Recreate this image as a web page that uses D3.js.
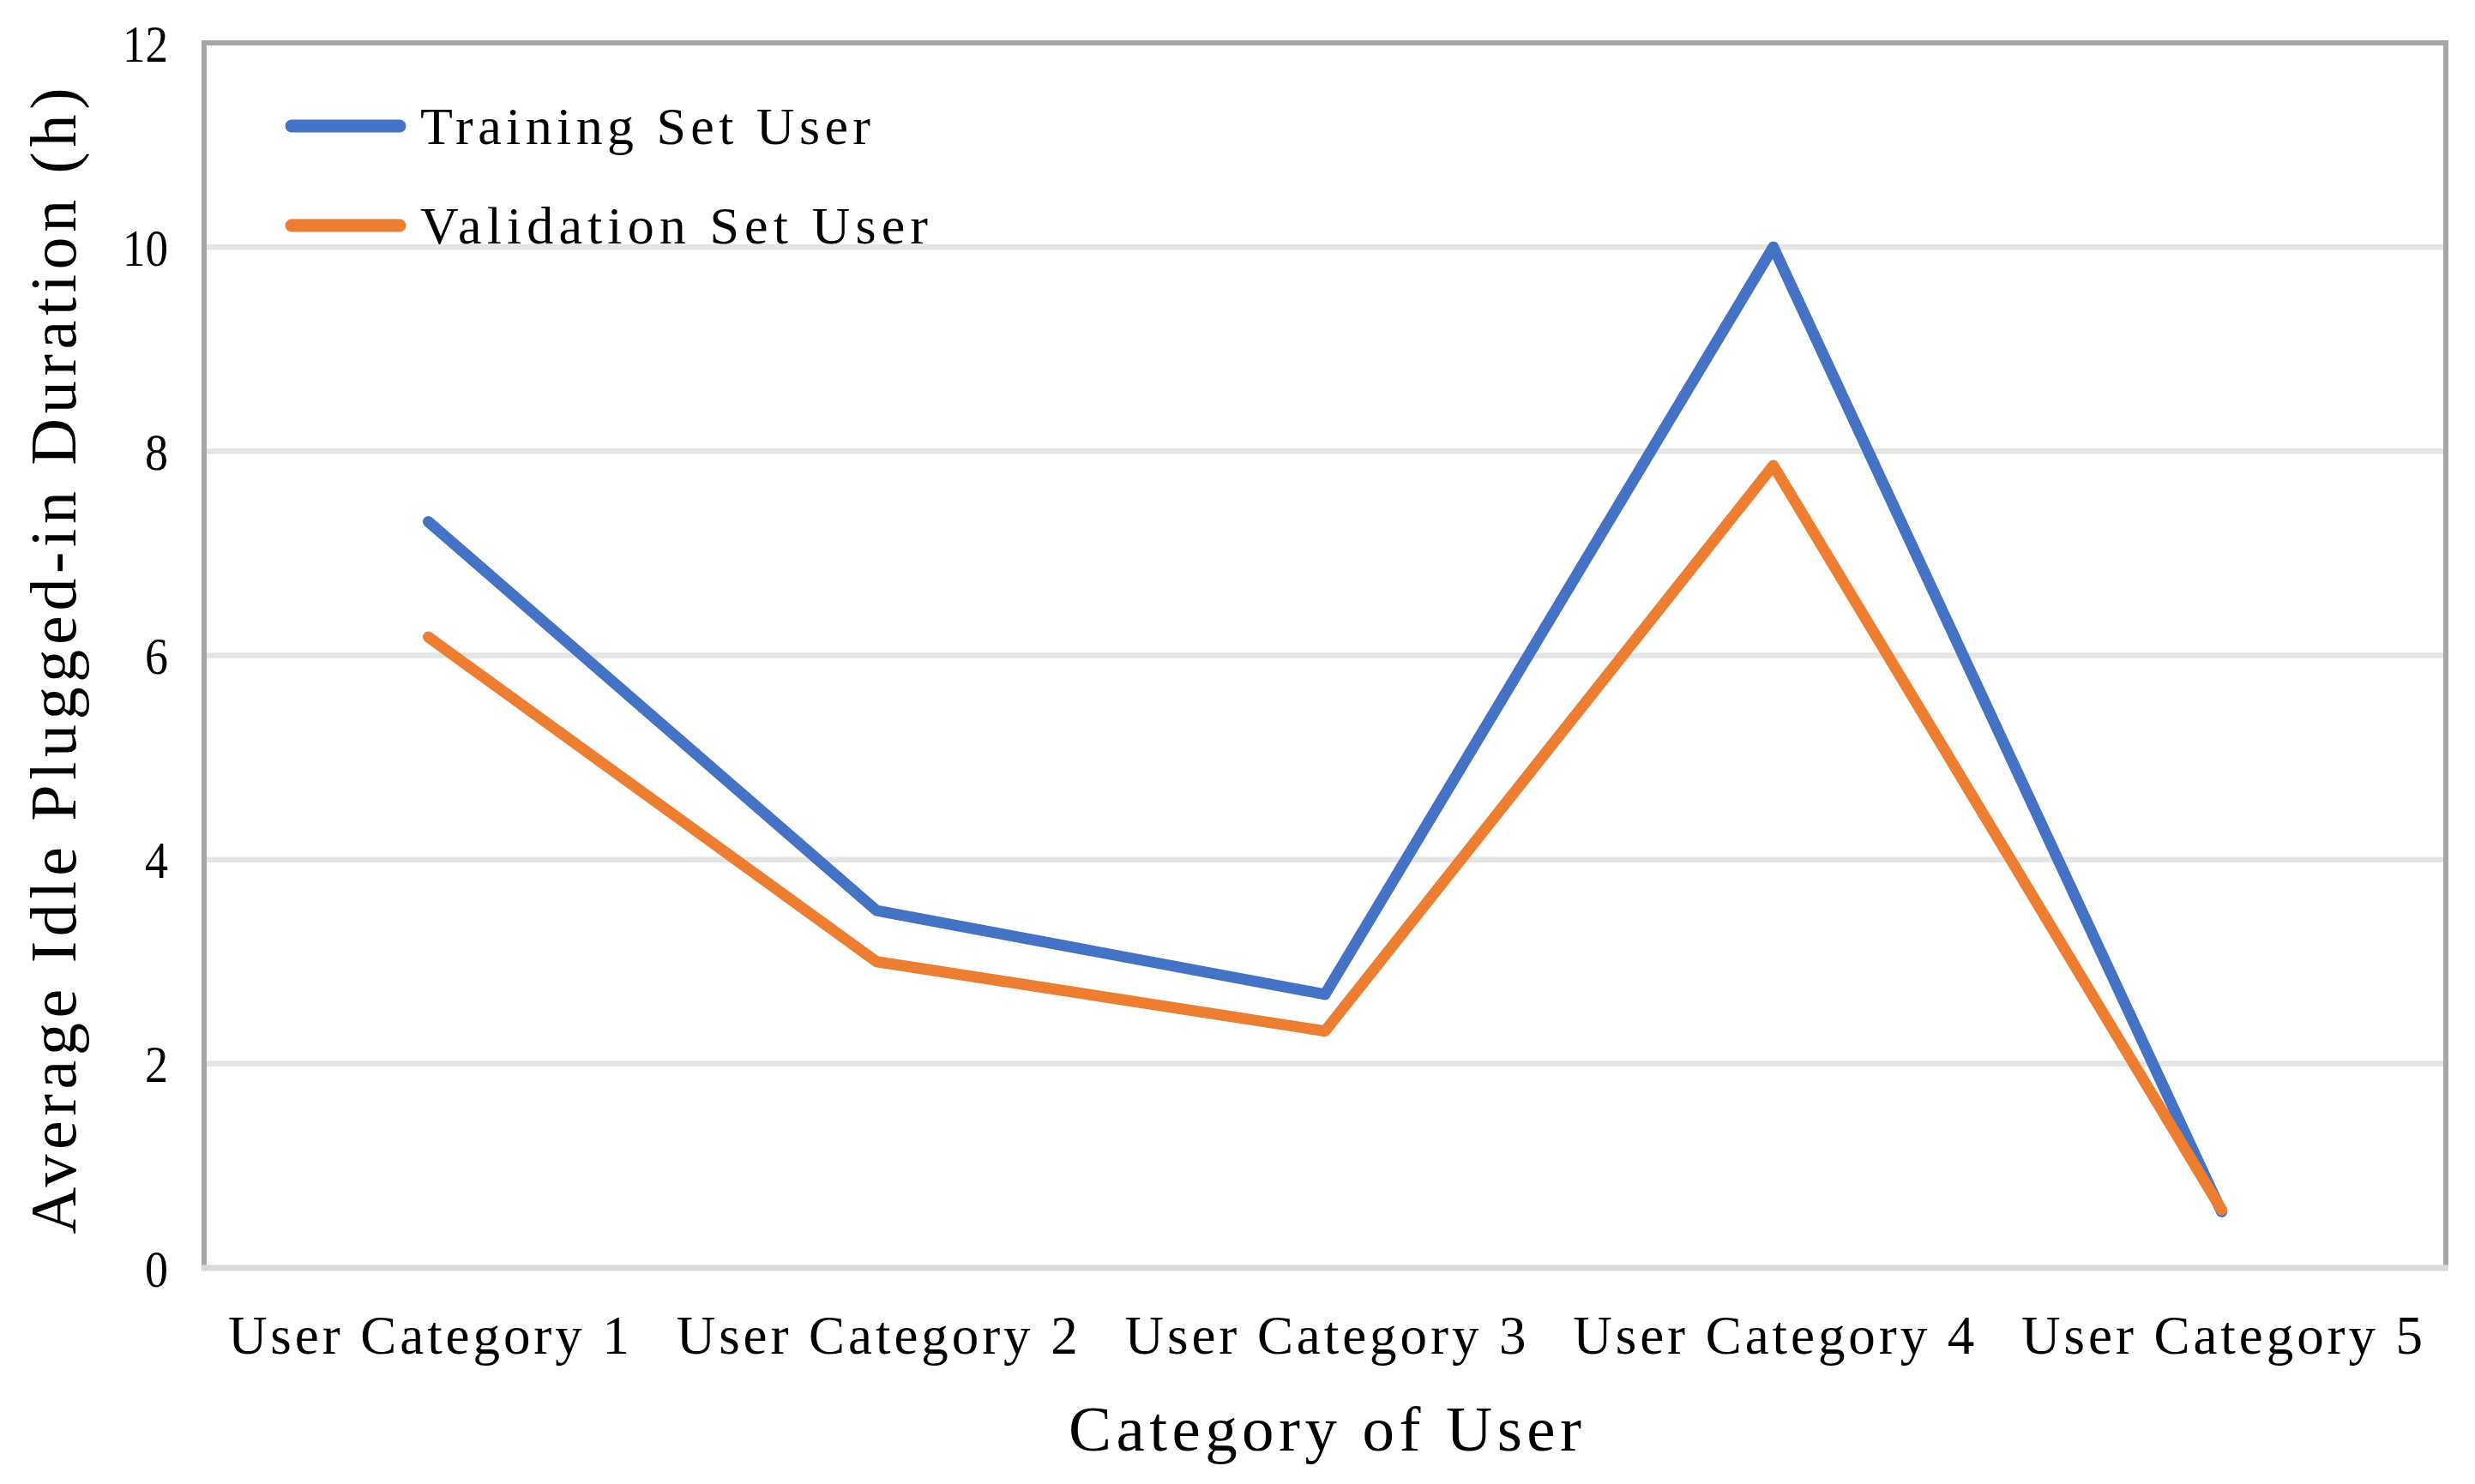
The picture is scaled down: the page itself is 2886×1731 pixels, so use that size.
<!DOCTYPE html>
<html>
<head>
<meta charset="utf-8">
<script src="https://cdn.jsdelivr.net/npm/d3@7"></script>
<style>
  html, body { margin: 0; padding: 0; background: #fff; }
  svg { display: block; }
  text { font-family: "Liberation Serif", "Times New Roman", serif; fill: #000; }
</style>
</head>
<body>
<script>
// ---- data ----
const categories = ["User Category 1", "User Category 2", "User Category 3", "User Category 4", "User Category 5"];
const trainingValues = [7.31, 3.50, 2.68, 10.0, 0.55];
const validationValues = [6.18, 3.00, 2.32, 7.86, 0.57];
const seriesNames = ["Training Set User", "Validation Set User"];
const yTicks = [0, 2, 4, 6, 8, 10, 12];
const xTitle = "Category of User";
const yTitle = "Average Idle Plugged-in Duration (h)";

// ---- layout ----
const W = 2886, H = 1731;
const plotL = 238, plotR = 2852, plotT = 50, plotB = 1479;
const colors = ["#4472C4", "#ED7D31"];

const svg = d3.select("body").append("svg").attr("width", W).attr("height", H);
svg.append("rect").attr("width", W).attr("height", H).attr("fill", "#fff");

const x = d3.scalePoint().domain(categories).range([plotL, plotR]).padding(0.5);
const y = d3.scaleLinear().domain([0, 12]).range([plotB, plotT]);

// plot border
svg.append("rect")
  .attr("x", plotL).attr("y", plotT)
  .attr("width", plotR - plotL).attr("height", plotB - plotT)
  .attr("fill", "none").attr("stroke", "#a6a6a6").attr("stroke-width", 6);

// gridlines
svg.append("g").selectAll("line")
  .data(yTicks.filter(d => d > 0 && d < 12))
  .join("line")
  .attr("x1", plotL + 3).attr("x2", plotR - 3)
  .attr("y1", d => y(d)).attr("y2", d => y(d))
  .attr("stroke", "#e4e4e4").attr("stroke-width", 6.5);

// bottom axis line
svg.append("line")
  .attr("x1", plotL - 3).attr("x2", plotR + 3)
  .attr("y1", y(0)).attr("y2", y(0))
  .attr("stroke", "#d9d9d9").attr("stroke-width", 7);

// y axis tick labels
const yAxis = d3.axisLeft(y).tickValues(yTicks).tickSize(0).tickPadding(0).tickFormat(d3.format("d"));
const gy = svg.append("g").attr("transform", `translate(${196},0)`).call(yAxis);
gy.select(".domain").remove();
gy.selectAll("text")
  .attr("font-family", "Liberation Serif, serif")
  .attr("font-size", 62)
  .attr("fill", "#000")
  .attr("dy", null)
  .attr("y", 21)
  .attr("x", 0)
  .attr("text-anchor", "end")
  .attr("textLength", d => String(d).length === 1 ? 27 : 53)
  .attr("lengthAdjust", "spacingAndGlyphs");

// x axis category labels
const xAxis = d3.axisBottom(x).tickSize(0).tickPadding(0);
const gx = svg.append("g").call(xAxis);
gx.select(".domain").remove();
gx.selectAll("text")
  .attr("font-family", "Liberation Serif, serif")
  .attr("font-size", 63)
  .attr("fill", "#000")
  .attr("dy", null)
  .attr("y", 1579)
  .attr("text-anchor", "middle")
  .attr("textLength", 468)
  .attr("lengthAdjust", "spacing");

// lines
const line = d3.line().x((d, i) => x(categories[i])).y(d => y(d));
[trainingValues, validationValues].forEach((vals, k) => {
  svg.append("path")
    .datum(vals)
    .attr("d", line)
    .attr("fill", "none")
    .attr("stroke", colors[k])
    .attr("stroke-width", 13)
    .attr("stroke-linecap", "round")
    .attr("stroke-linejoin", "round");
});

// legend
const legendY = [147, 263];
const legendTextLen = [525, 592];
seriesNames.forEach((name, k) => {
  svg.append("line")
    .attr("x1", 340).attr("x2", 466)
    .attr("y1", legendY[k]).attr("y2", legendY[k])
    .attr("stroke", colors[k]).attr("stroke-width", 15)
    .attr("stroke-linecap", "round");
  svg.append("text")
    .attr("x", 490).attr("y", legendY[k] + 21)
    .attr("font-size", 62)
    .attr("textLength", legendTextLen[k])
    .attr("lengthAdjust", "spacing")
    .text(name);
});

// axis titles
svg.append("text")
  .attr("x", (plotL + plotR) / 2).attr("y", 1692)
  .attr("text-anchor", "middle")
  .attr("font-size", 75)
  .attr("textLength", 598)
  .attr("lengthAdjust", "spacing")
  .text(xTitle);

svg.append("text")
  .attr("transform", `translate(88,771) rotate(-90)`)
  .attr("text-anchor", "middle")
  .attr("font-size", 76)
  .attr("textLength", 1337)
  .attr("lengthAdjust", "spacing")
  .text(yTitle);
</script>
</body>
</html>
